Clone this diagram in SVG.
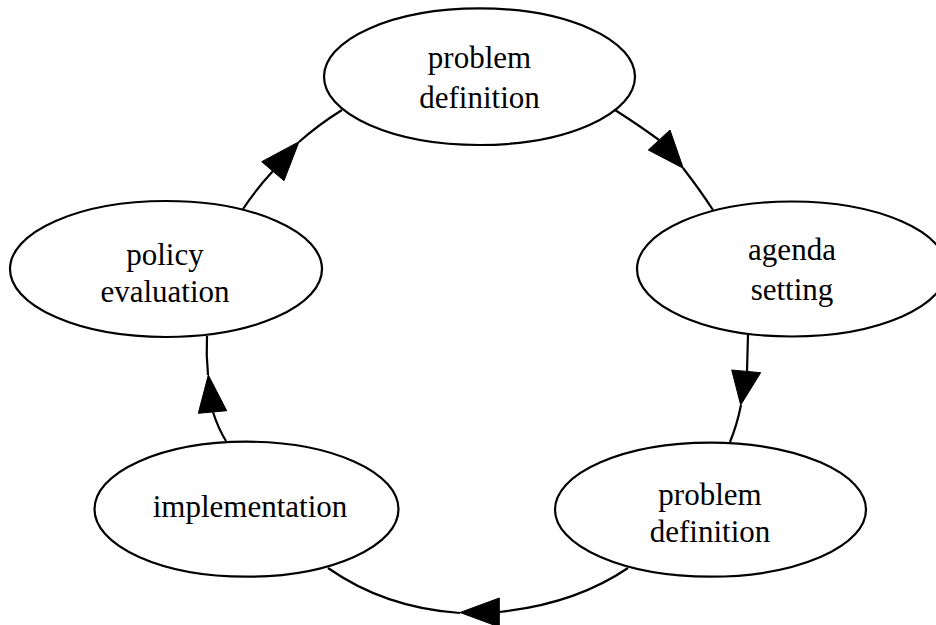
<svg xmlns="http://www.w3.org/2000/svg" width="936" height="625" viewBox="0 0 936 625">
<style>
.node ellipse{fill:#fff;stroke:#000;stroke-width:2.2}
.node text{font-family:"Liberation Serif","Times New Roman",serif;font-size:31px;fill:#000;text-anchor:middle}
.edge path{fill:none;stroke:#000;stroke-width:2.2}
.edge polygon{fill:#000;stroke:#000;stroke-width:1}
</style>
<rect width="936" height="625" fill="#fff"/>
<g id="edges">
<g class="edge" id="e1">
<path d="M615,110 Q640,126 659,140"/>
<polygon points="683.3,168.3 648.3,150 670,130"/>
<path d="M683,168 Q700,190 713,210"/>
</g>
<g class="edge" id="e2">
<path d="M748,335 L747,371"/>
<polygon points="740.7,405 731.7,370 760.7,372.7"/>
<path d="M741,405 Q737,425 730,442"/>
</g>
<g class="edge" id="e3">
<path d="M628,568 Q575,604 499,612"/>
<polygon points="460,612.5 499.3,598 499.3,627"/>
<path d="M460,613 Q385,608 328,568"/>
</g>
<g class="edge" id="e4">
<path d="M226,441 Q218,428 213,412"/>
<polygon points="208.3,375 198.3,413.3 226.7,410.7"/>
<path d="M208,375 Q206,355 207,336"/>
</g>
<g class="edge" id="e5">
<path d="M243,209 Q257,188 273,171"/>
<polygon points="299,141.7 261.7,161.7 284,180.7"/>
<path d="M299,142 Q318,125 342,110"/>
</g>
</g>
<g class="node" id="n_problem_top">
<ellipse cx="479.5" cy="76.7" rx="155.5" ry="68.3"/>
<text x="479.5" y="68.3">problem</text>
<text x="479.5" y="108.3">definition</text>
</g>
<g class="node" id="n_agenda">
<ellipse cx="792" cy="269" rx="155" ry="67.5"/>
<text x="792" y="260">agenda</text>
<text x="792" y="300">setting</text>
</g>
<g class="node" id="n_problem_bottom">
<ellipse cx="710.5" cy="509.7" rx="155.5" ry="67"/>
<text x="710" y="505">problem</text>
<text x="710" y="542">definition</text>
</g>
<g class="node" id="n_implementation">
<ellipse cx="246.5" cy="509.2" rx="152" ry="67.5"/>
<text x="250" y="516.7">implementation</text>
</g>
<g class="node" id="n_policy">
<ellipse cx="166" cy="269" rx="156" ry="68"/>
<text x="165" y="265">policy</text>
<text x="165" y="302">evaluation</text>
</g>
</svg>
